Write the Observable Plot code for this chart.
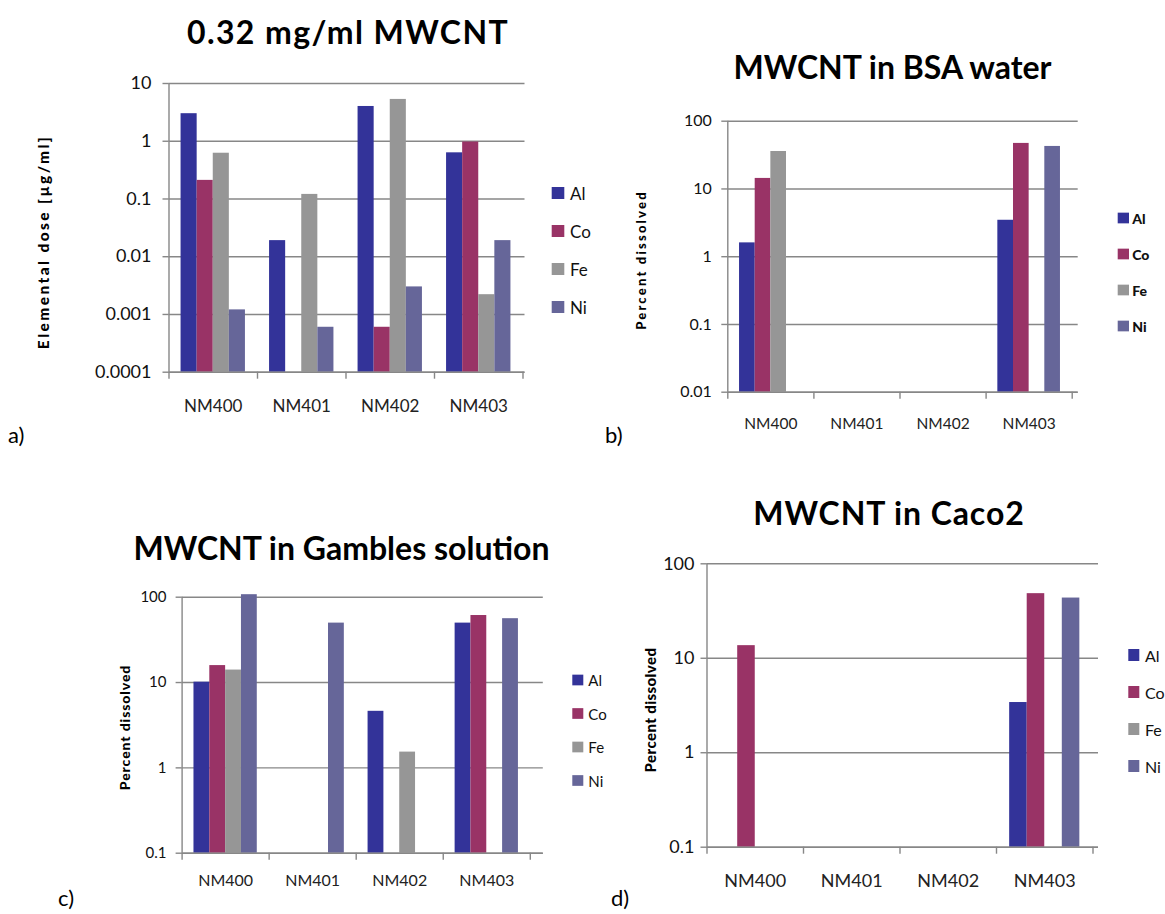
<!DOCTYPE html>
<html>
<head>
<meta charset="utf-8">
<script src="https://cdn.jsdelivr.net/npm/d3@7"></script>
<script src="https://cdn.jsdelivr.net/npm/@observablehq/plot@0.6"></script>
<style>
  html, body { margin: 0; padding: 0; background: #fff; }
  #page { position: relative; width: 1165px; height: 914px; overflow: hidden; background: #fff; }
  #page > svg { position: absolute; left: 0; top: 0; }
</style>
</head>
<body>
<div id="page"></div>
<script>
// Categories and series
const categories = ["NM400", "NM401", "NM402", "NM403"];
const elements = ["Al", "Co", "Fe", "Ni"];
const elementColors = ["#333399", "#993366", "#969696", "#666699"];

// a) elemental dose at 0.32 mg/ml MWCNT [µg/ml]; null = no bar
const doseAl = [3.0, 0.019, 4.0, 0.63];
const doseCo = [0.21, null, 0.0006, 0.97];
const doseFe = [0.62, 0.12, 5.3, 0.0022];
const doseNi = [0.0012, 0.0006, 0.003, 0.019];
const doseTicks = [0.0001, 0.001, 0.01, 0.1, 1, 10];

// b) percent dissolved in BSA water
const bsaAl = [1.6, null, null, 3.45];
const bsaCo = [14.3, null, null, 47];
const bsaFe = [35.7, null, null, null];
const bsaNi = [null, null, null, 42.4];
const bsaTicks = [0.01, 0.1, 1, 10, 100];

// c) percent dissolved in Gambles solution
const gamblesAl = [10.1, null, 4.6, 49.7];
const gamblesCo = [15.8, null, null, 61];
const gamblesFe = [14, null, 1.53, null];
const gamblesNi = [107, 49.7, null, 56];
const gamblesTicks = [0.1, 1, 10, 100];

// d) percent dissolved in Caco2
const caco2Al = [null, null, null, 3.4];
const caco2Co = [13.6, null, null, 48.3];
const caco2Fe = [null, null, null, null];
const caco2Ni = [null, null, null, 43.4];
const caco2Ticks = [0.1, 1, 10, 100];

const W = 1165, H = 914;
const GAP = 1.5;            // gap between groups, in bar widths
const gridColor = "#878787";
const FONT = "Lato, 'Open Sans', sans-serif";

const panels = [
  {
    letter: "a)", letterPos: [8, 443],
    title: "0.32 mg/ml MWCNT", titlePos: [348, 43.5], titleSize: 32, titleSpacing: 1.4,
    yLabel: "Elemental dose [µg/ml]", yLabelPos: [43, 242], yLabelSize: 15.5, yLabelSpacing: 2.4,
    series: [doseAl, doseCo, doseFe, doseNi], ticks: doseTicks,
    frame: {left: 168.5, right: 522.5, top: 83, bottom: 371.7}, gridExtend: 2,
    yFont: 18, yPad: 11.5, xFont: 17, xPad: 28,
    legend: {x: 551.7, w: 12.6, h: 12, y: 193, step: 38, textX: 570, size: 17, weight: 400}
  },
  {
    letter: "b)", letterPos: [605, 443],
    title: "MWCNT in BSA water", titlePos: [892.5, 79.3], titleSize: 32, titleSpacing: 0,
    yLabel: "Percent dissolved", yLabelPos: [641, 260], yLabelSize: 13, yLabelSpacing: 2.2,
    series: [bsaAl, bsaCo, bsaFe, bsaNi], ticks: bsaTicks,
    frame: {left: 727.3, right: 1071.7, top: 120.7, bottom: 391.7}, gridExtend: 6,
    yFont: 16, yPad: 10, xFont: 15.5, xPad: 25.4,
    legend: {x: 1117.7, w: 11.3, h: 10.7, y: 218, step: 36, textX: 1132.3, size: 14, weight: 900}
  },
  {
    letter: "c)", letterPos: [58, 906],
    title: "MWCNT in Gambles solution", titlePos: [341.5, 560], titleSize: 32, titleSpacing: 0,
    yLabel: "Percent dissolved", yLabelPos: [124, 727.5], yLabelSize: 14, yLabelSpacing: 0.9,
    series: [gamblesAl, gamblesCo, gamblesFe, gamblesNi], ticks: gamblesTicks,
    frame: {left: 181.6, right: 529.8, top: 596.7, bottom: 852.7}, gridExtend: 13,
    yFont: 15, yPad: 9.6, xFont: 16, xPad: 21.5,
    legend: {x: 572.3, w: 11, h: 10.7, y: 680, step: 33.5, textX: 588.3, size: 15, weight: 400}
  },
  {
    letter: "d)", letterPos: [611, 906],
    title: "MWCNT in Caco2", titlePos: [889, 525], titleSize: 32, titleSpacing: 0.9,
    yLabel: "Percent dissolved", yLabelPos: [650, 710], yLabelSize: 15, yLabelSpacing: 0.4,
    series: [caco2Al, caco2Co, caco2Fe, caco2Ni], ticks: caco2Ticks,
    frame: {left: 706.5, right: 1092.5, top: 563.3, bottom: 846.7}, gridExtend: 5.5,
    yFont: 18, yPad: 6.5, xFont: 18, xPad: 26.8,
    legend: {x: 1128.3, w: 11, h: 12, y: 655, step: 37, textX: 1145, size: 16, weight: 400}
  }
];

// One row per drawn bar; each category spans one unit of x, bars sit side by side
function barRows(series) {
  const slots = elements.length + GAP;
  const rows = [];
  elements.forEach((element, j) => {
    series[j].forEach((value, i) => {
      if (value == null) return;
      rows.push({
        category: categories[i], element, value,
        x1: i + (GAP / 2 + j) / slots,
        x2: i + (GAP / 2 + j + 1) / slots
      });
    });
  });
  return rows;
}

function panelPlot(p) {
  const ticks = p.ticks;
  const yMin = ticks[0], yMax = ticks[ticks.length - 1];
  const line = {stroke: gridColor, strokeWidth: 1.4};
  return Plot.plot({
    width: W, height: H,
    marginLeft: p.frame.left, marginRight: W - p.frame.right,
    marginTop: p.frame.top, marginBottom: H - p.frame.bottom,
    style: {background: "transparent", fontFamily: FONT, color: "#111", overflow: "visible"},
    x: {type: "linear", domain: [0, categories.length], label: null},
    y: {type: "log", domain: [yMin, yMax], label: null},
    color: {domain: elements, range: elementColors},
    marks: [
      Plot.ruleY(ticks, {...line, insetRight: -p.gridExtend}),
      Plot.rect(barRows(p.series), {x1: "x1", x2: "x2", y1: yMin, y2: "value", fill: "element"}),
      Plot.ruleY([yMin], {...line, insetRight: -p.gridExtend}),
      Plot.ruleX([0], {...line, y1: yMin, y2: yMax}),
      Plot.axisY({ticks, tickSize: 6, tickPadding: p.yPad, tickFormat: d => String(d),
        ...line, fill: "#111", fontSize: p.yFont, label: null}),
      Plot.axisX({ticks: d3.range(categories.length + 1), tickSize: 7, tickFormat: () => "",
        ...line, label: null}),
      Plot.axisX({ticks: categories.map((c, i) => i + 0.5), tickSize: 0, tickPadding: p.xPad,
        tickFormat: t => categories[Math.floor(t)], fill: "#222", fontSize: p.xFont, label: null})
    ]
  });
}

const page = document.getElementById("page");
for (const p of panels) page.appendChild(panelPlot(p));

// Titles, axis titles, legends and panel letters
const overlay = d3.create("svg")
  .attr("width", W).attr("height", H)
  .style("font-family", FONT)
  .style("pointer-events", "none");

for (const p of panels) {
  overlay.append("text")
    .attr("x", p.titlePos[0]).attr("y", p.titlePos[1])
    .attr("text-anchor", "middle")
    .attr("font-size", p.titleSize).attr("font-weight", 700).attr("fill", "#000")
    .style("letter-spacing", `${p.titleSpacing}px`)
    .text(p.title);

  overlay.append("text")
    .attr("transform", `translate(${p.yLabelPos[0]},${p.yLabelPos[1]}) rotate(-90)`)
    .attr("text-anchor", "middle").attr("dominant-baseline", "central")
    .attr("font-size", p.yLabelSize).attr("font-weight", 900)
    .style("letter-spacing", `${p.yLabelSpacing}px`)
    .attr("fill", "#000")
    .text(p.yLabel);

  const lg = p.legend;
  elements.forEach((el, k) => {
    const cy = lg.y + k * lg.step;
    overlay.append("rect")
      .attr("x", lg.x).attr("y", cy - lg.h / 2)
      .attr("width", lg.w).attr("height", lg.h)
      .attr("fill", elementColors[k]);
    overlay.append("text")
      .attr("x", lg.textX).attr("y", cy)
      .attr("dominant-baseline", "central")
      .attr("font-size", lg.size).attr("font-weight", lg.weight).attr("fill", "#111")
      .text(el);
  });

  overlay.append("text")
    .attr("x", p.letterPos[0]).attr("y", p.letterPos[1])
    .attr("font-size", 22).attr("fill", "#000")
    .text(p.letter);
}

page.appendChild(overlay.node());
</script>
</body>
</html>
